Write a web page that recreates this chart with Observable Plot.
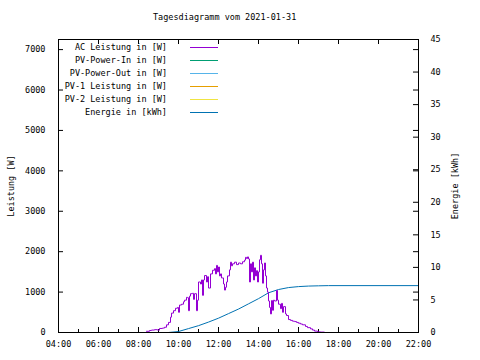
<!DOCTYPE html>
<html><head><meta charset="utf-8">
<script src="https://cdn.jsdelivr.net/npm/d3@7"></script>
<script src="https://cdn.jsdelivr.net/npm/@observablehq/plot@0.6"></script>
<style>
body{margin:0;background:#fff;}
#wrap{position:relative;width:480px;height:360px;font-family:"DejaVu Sans Mono",monospace;font-size:8.5px;color:#000;}
#title{position:absolute;left:153px;top:12px;line-height:10px;white-space:pre;}
#legend{position:absolute;left:0;top:0;}
.row{position:absolute;left:0;width:230px;height:12px;}
.row span{position:absolute;left:0;width:167px;text-align:right;line-height:12px;top:0;white-space:pre;}
.row i{position:absolute;left:190px;width:28px;top:6px;height:0;border-top:1px solid;}
#chart{position:absolute;left:0;top:0;}
</style></head>
<body><div id="wrap"><div id="chart"></div><div id="title">Tagesdiagramm vom 2021-01-31</div><div id="legend"></div></div>
<script>
// ---- data ----
const day = "2021-01-31";
const chartTitle = "Tagesdiagramm vom 2021-01-31";
const seriesNames = ["AC Leistung in [W]", "PV-Power-In in [W]", "PV-Power-Out in [W]", "PV-1 Leistung in [W]", "PV-2 Leistung in [W]", "Energie in [kWh]"];
const seriesColors = ["#9400d3", "#009e73", "#56b4e9", "#e69f00", "#f0e442", "#0072b2"];

const acTimes = ["08:24","08:33","08:39","08:48","08:57","09:03","09:12","09:18","09:24","09:30","09:36","09:39","09:45","09:51","09:57","10:00","10:03","10:09","10:15","10:18","10:24","10:27","10:30","10:33","10:36","10:42","10:45","10:48","10:54","10:57","11:00","11:06","11:09","11:12","11:15","11:18","11:24","11:27","11:30","11:36","11:42","11:48","11:51","11:54","11:57","12:00","12:03","12:06","12:09","12:15","12:18","12:21","12:24","12:27","12:33","12:36","12:39","12:42","12:48","12:54","13:00","13:06","13:12","13:18","13:21","13:24","13:27","13:30","13:33","13:36","13:39","13:42","13:45","13:48","13:51","13:54","13:57","14:00","14:03","14:06","14:09","14:12","14:15","14:18","14:21","14:24","14:27","14:30","14:33","14:36","14:39","14:42","14:45","14:48","14:54","14:57","15:00","15:06","15:09","15:12","15:15","15:21","15:24","15:30","15:36","15:42","15:48","15:54","16:00","16:06","16:12","16:21","16:27","16:36","16:42","16:48","16:57","17:06","17:18"];
const acWatts = [30,50,60,70,60,100,110,130,190,250,380,480,540,600,620,500,680,700,760,800,870,860,540,900,960,970,820,960,540,800,1250,1200,1300,920,1300,1410,1250,1380,1100,1450,1540,1580,1450,1660,1500,1620,1400,1450,1350,1200,1050,1120,1250,1400,1550,1740,1650,1700,1740,1680,1720,1700,1750,1790,1860,1830,1870,1820,1250,1700,1500,1740,1300,1600,1400,1530,1250,1500,1800,1910,1700,1220,1550,1720,1400,1100,1000,780,620,460,790,550,800,780,1040,800,700,590,720,500,640,460,420,320,300,280,270,250,230,210,190,150,120,90,60,35,15,10,5];

const energyTimes = ["09:30","10:00","10:30","11:00","11:30","12:00","12:30","13:00","13:30","14:00","14:30","15:00","15:30","16:00","16:30","17:00","17:30","22:00"];
const energyKwh = [0,0.15,0.6,1.05,1.6,2.2,2.9,3.6,4.4,5.2,6.1,6.6,6.9,7.05,7.13,7.17,7.2,7.2];

const leftTicks = [0,1000,2000,3000,4000,5000,6000,7000];
const rightTicks = [0,5,10,15,20,25,30,35,40,45];
const xLabelTimes = ["04:00","06:00","08:00","10:00","12:00","14:00","16:00","18:00","20:00","22:00"];
const xMinorTimes = ["05:00","07:00","09:00","11:00","13:00","15:00","17:00","19:00","21:00"];
const leftMax = 7250, rightMax = 45;

// ---- build ----
const parse = t => new Date(`${day}T${t}:00Z`);
const K = leftMax / rightMax;
const ac = acTimes.map((t, i) => ({t: parse(t), v: acWatts[i]}));
const energy = energyTimes.map((t, i) => ({t: parse(t), e: energyKwh[i]}));
const xMajor = xLabelTimes.map(parse);
const xMinor = xMinorTimes.map(parse);

document.getElementById("title").textContent = chartTitle;

const W = 480, H = 360, mL = 58, mR = 62, mT = 39, mB = 28;
const fw = W - mL - mR, fh = H - mT - mB;

const chart = Plot.plot({
  width: W, height: H,
  marginLeft: mL, marginRight: mR, marginTop: mT, marginBottom: mB,
  style: {fontFamily: "DejaVu Sans Mono, monospace", fontSize: "8.5px", background: "#fff", color: "#000", overflow: "visible"},
  x: {type: "utc", domain: [parse("04:00"), parse("22:00")]},
  y: {domain: [0, leftMax]},
  marks: [
    Plot.axisX(xMajor, {tickSize: 0, tickPadding: 8, tickFormat: d3.utcFormat("%H:%M"), label: null}),
    Plot.tickX(xMajor, {x: d => d, insetTop: fh - 5, stroke: "#000"}),
    Plot.tickX(xMinor, {x: d => d, insetTop: fh - 3, stroke: "#000"}),
    Plot.tickX(xMajor, {x: d => d, insetBottom: fh - 5, stroke: "#000"}),
    Plot.axisY(leftTicks, {anchor: "left", tickSize: 0, tickPadding: 13, tickFormat: d3.format("d"), label: "Leistung [W]", labelAnchor: "center", labelArrow: "none", labelOffset: 51}),
    Plot.tickY(leftTicks, {y: d => d, insetRight: fw - 5, stroke: "#000"}),
    Plot.tickY(leftTicks, {y: d => d, insetLeft: fw - 5, stroke: "#000"}),
    Plot.tickY(rightTicks, {y: d => d * K, insetLeft: fw - 5, stroke: "#000"}),
    Plot.axisY(rightTicks.map(v => v * K), {anchor: "right", tickSize: 0, tickPadding: 12, tickFormat: d => String(Math.round(d / K)), label: "Energie [kWh]", labelAnchor: "center", labelArrow: "none", labelOffset: 39}),
    Plot.line(energy, {x: "t", y: d => d.e * K, stroke: seriesColors[5], strokeWidth: 1, curve: "linear"}),
    Plot.line(ac, {x: "t", y: "v", stroke: seriesColors[0], strokeWidth: 1, curve: "step-after"}),
    Plot.frame({stroke: "#000"})
  ]
});
document.getElementById("chart").append(chart);

const legend = document.getElementById("legend");
seriesNames.forEach((name, i) => {
  const row = document.createElement("div");
  row.className = "row";
  row.style.top = (41 + i * 13) + "px";
  const s = document.createElement("span");
  s.textContent = name;
  const l = document.createElement("i");
  l.style.borderTopColor = seriesColors[i];
  row.append(s, l);
  legend.append(row);
});
</script>
</body></html>
